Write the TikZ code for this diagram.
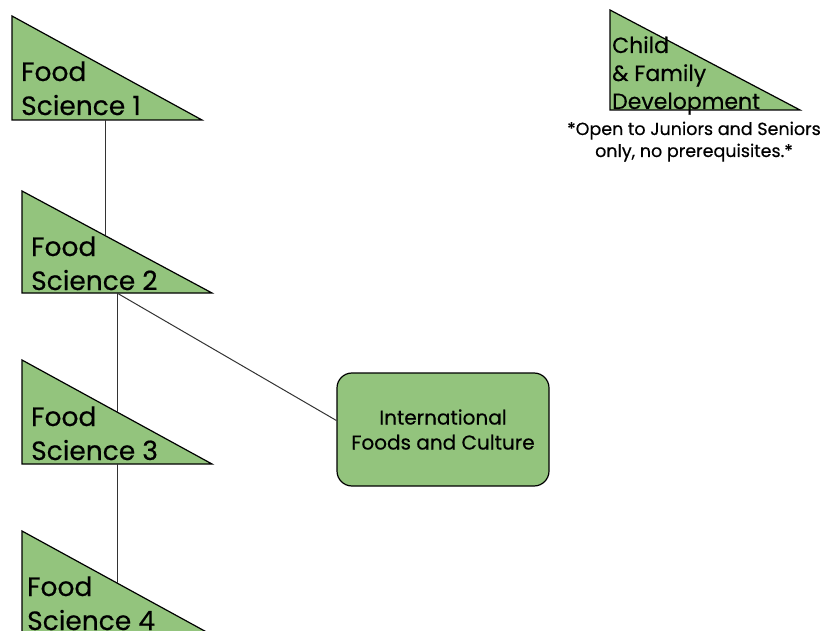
\documentclass[tikz,border=0pt]{standalone}
\usepackage{fontspec}
\setmainfont{Poppins}[FakeBold=0.4]
\definecolor{foodgreen}{HTML}{93C47D}
\tikzset{
  tri/.style={draw=black, fill=foodgreen, line width=1.2pt, line join=miter},
  trilabel/.style={anchor=base west, align=left, inner sep=0pt, font=\fontsize{26.5}{34}\selectfont},
  course/.style={draw=black, fill=foodgreen, line width=1.2pt, rounded corners=15pt, minimum width=212pt, minimum height=113pt, align=center, font=\fontsize{20}{25}\selectfont},
  link/.style={draw=black!80, line width=1pt}
}
\begin{document}
\begin{tikzpicture}[x=1pt, y=-1pt]
    \useasboundingbox (0,0) rectangle (830,631);

    % Food Science triangles
    \draw[tri] (12,16) -- (12,120) -- (202,120) -- cycle;
    \node[trilabel] (fs1) at (21,115) {Food\\Science 1};
    \draw[tri] (22,191) -- (22,293) -- (212,293) -- cycle;
    \node[trilabel] (fs2) at (31,290) {Food\\Science 2};
    \draw[tri] (22,360) -- (22,464) -- (212,464) -- cycle;
    \node[trilabel] (fs3) at (31,460) {Food\\Science 3};
    \draw[tri] (22,531) -- (22,635) -- (212,635) -- cycle;
    \node[trilabel] (fs4) at (27,630) {Food\\Science 4};

    % where the links meet the triangles
    \coordinate (fs1b) at (105,120);
    \coordinate (fs2t) at (105,235);
    \coordinate (fs2b) at (117,293);
    \coordinate (fs3t) at (117,412);
    \coordinate (fs3b) at (117,464);
    \coordinate (fs4t) at (117,583);

    % Elective
    \node[course] (intl) at (443,429.5) {International\\Foods and Culture};

    % Child & Family Development
    \draw[tri] (610,10) -- (610,110) -- (800,110) -- cycle;
    \node[trilabel, font=\fontsize{22}{28}\selectfont] (cfd) at (612,109) {Child\\\& Family\\Development};
    \node[align=center, inner sep=0pt, anchor=base, font=\fontsize{17.5}{22}\selectfont] (note) at (694,157)
        {*Open to Juniors and Seniors\\only, no prerequisites.*};

    \draw[link] (fs1b) -- (fs2t);
    \draw[link] (fs2b) -- (fs3t);
    \draw[link] (fs2b) -- ([yshift=9pt]intl.west);
    \draw[link] (fs3b) -- (fs4t);
\end{tikzpicture}
\end{document}
